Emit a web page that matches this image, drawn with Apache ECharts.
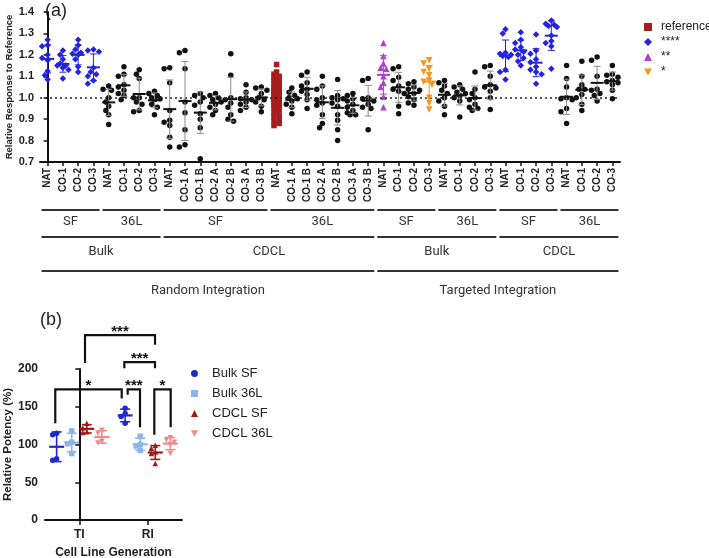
<!DOCTYPE html>
<html>
<head>
<meta charset="UTF-8">
<title>Relative response and potency</title>
<script src="https://cdn.jsdelivr.net/npm/echarts@6/dist/echarts.min.js"></script>
</head>
<body style="margin:0;background:#fff">
<div id="main" style="width:709px;height:558px"></div>
<script>
// ---- panel (a) data: one array per SF/36L block, one inner array per clone ----
var four = ['NAT', 'CO-1', 'CO-2', 'CO-3'];
var seven = ['NAT', 'CO-1 A', 'CO-1 B', 'CO-2 A', 'CO-2 B', 'CO-3 A', 'CO-3 B'];

var riBulkSF = [
  [1.27, 1.245, 1.24, 1.2, 1.185, 1.175, 1.125, 1.105, 1.085],
  [1.22, 1.20, 1.18, 1.16, 1.15, 1.15, 1.14, 1.13, 1.09],
  [1.27, 1.245, 1.225, 1.21, 1.205, 1.2, 1.18, 1.145, 1.12],
  [1.225, 1.22, 1.215, 1.14, 1.12, 1.11, 1.1, 1.08, 1.065]
];
var riBulk36L = [
  [1.055, 1.04, 1.035, 1.0, 0.98, 0.96, 0.94, 0.92, 0.875],
  [1.145, 1.11, 1.10, 1.06, 1.05, 1.035, 1.02, 1.01, 0.99],
  [1.13, 1.11, 1.09, 1.0, 1.0, 0.98, 0.97, 0.94, 0.935],
  [1.03, 1.02, 1.01, 1.0, 0.995, 0.99, 0.97, 0.955, 0.92]
];
var riCdclSF = [
  [1.14, 1.135, 1.07, 0.94, 0.895, 0.885, 0.87, 0.815, 0.77],
  [1.22, 1.21, 1.135, 0.98, 0.93, 0.85, 0.78, 0.77],
  [1.02, 1.01, 1.0, 0.98, 0.965, 0.925, 0.9, 0.86, 0.715],
  [1.02, 1.01, 1.0, 0.99, 0.98, 0.97, 0.955, 0.94, 0.92],
  [1.205, 1.105, 1.0, 0.99, 0.975, 0.955, 0.92, 0.9, 0.89],
  [1.06, 1.025, 1.0, 0.995, 0.99, 0.98, 0.97, 0.955, 0.94],
  [1.05, 1.045, 1.035, 1.02, 1.0, 0.99, 0.98, 0.96, 0.935]
];
var riCdcl36L = [
  [1.155, 1.12, 1.11, 1.10, 1.095, 1.09, 1.085, 1.08, 1.075, 1.07, 1.065, 1.06, 1.055, 1.05, 1.05,
   1.045, 1.04, 1.04, 1.035, 1.03, 1.03, 1.025, 1.02, 1.02, 1.015, 1.01, 1.01, 1.005, 1.0, 1.0,
   0.995, 0.99, 0.99, 0.985, 0.98, 0.98, 0.975, 0.97, 0.965, 0.96, 0.955, 0.95, 0.945, 0.94,
   0.93, 0.92, 0.91, 0.90, 0.89, 0.88, 0.87],
  [1.045, 1.025, 1.01, 1.0, 0.995, 0.985, 0.97, 0.955, 0.925],
  [1.12, 1.105, 1.07, 1.055, 1.04, 1.03, 1.015, 0.99, 0.95],
  [1.1, 1.055, 1.04, 1.0, 0.99, 0.975, 0.965, 0.92, 0.88, 0.86],
  [1.085, 1.01, 1.0, 0.995, 0.99, 0.975, 0.96, 0.92, 0.895, 0.85, 0.80],
  [1.02, 1.01, 0.995, 0.985, 0.97, 0.955, 0.94, 0.93, 0.92, 0.92],
  [1.09, 1.08, 1.0, 0.995, 0.985, 0.97, 0.955, 0.95, 0.85]
];
var tiBulkSF = [
  [1.255, 1.195, 1.16, 1.14, 1.135, 1.1, 1.07, 1.05, 1.005, 0.955],
  [1.145, 1.135, 1.095, 1.08, 1.055, 1.04, 1.03, 1.02, 0.96, 0.925],
  [1.075, 1.065, 1.05, 1.04, 1.035, 1.02, 1.005, 0.99, 0.975, 0.965],
  [1.175, 1.16, 1.135, 1.12, 1.105, 1.08, 1.075, 1.06, 1.0, 0.975, 0.945]
];
var tiBulk36L = [
  [1.08, 1.07, 1.055, 1.035, 1.02, 1.0, 0.985, 0.96, 0.92],
  [1.06, 1.05, 1.04, 1.025, 1.02, 1.01, 1.0, 0.985, 0.91],
  [1.12, 1.04, 1.02, 1.0, 0.99, 0.97, 0.955, 0.95, 0.94],
  [1.15, 1.145, 1.1, 1.06, 1.05, 1.045, 1.03, 1.0, 0.945]
];
var tiCdclSF = [
  [1.32, 1.30, 1.21, 1.205, 1.2, 1.195, 1.19, 1.13, 1.12, 1.085],
  [1.305, 1.27, 1.255, 1.235, 1.225, 1.215, 1.2, 1.185, 1.17, 1.15],
  [1.295, 1.22, 1.205, 1.18, 1.165, 1.145, 1.13, 1.12, 1.11, 1.065],
  [1.36, 1.345, 1.34, 1.335, 1.33, 1.29, 1.265, 1.255, 1.24, 1.135]
];
var tiCdcl36L = [
  [1.15, 1.09, 1.05, 1.0, 0.995, 0.99, 0.95, 0.935, 0.88],
  [1.17, 1.1, 1.06, 1.04, 1.04, 1.015, 1.0, 0.97, 0.94],
  [1.19, 1.175, 1.1, 1.04, 1.035, 1.02, 1.01, 0.985],
  [1.15, 1.11, 1.105, 1.095, 1.08, 1.075, 1.07, 1.06, 1.035, 0.995]
];

// which legend class each clone belongs to ('' = not significant, black)
var riBulkSFMark = ['****', '****', '****', '****'];
var riBulk36LMark = ['', '', '', ''];
var riCdclSFMark = ['', '', '', '', '', '', ''];
var riCdcl36LMark = ['reference', '', '', '', '', '', ''];
var tiBulkSFMark = ['**', '', '', '*'];
var tiBulk36LMark = ['', '', '', ''];
var tiCdclSFMark = ['****', '****', '****', '****'];
var tiCdcl36LMark = ['', '', '', ''];

var levelRows = [
  [['SF', 0, 3], ['36L', 4, 7], ['SF', 8, 14], ['36L', 15, 21], ['SF', 22, 25], ['36L', 26, 29], ['SF', 30, 33], ['36L', 34, 37]],
  [['Bulk', 0, 7], ['CDCL', 8, 21], ['Bulk', 22, 29], ['CDCL', 30, 37]],
  [['Random Integration', 0, 21], ['Targeted Integration', 22, 37]]
];

// ---- panel (b) data: [TI values, RI values] ----
var potencyCats = ['TI', 'RI'];
var bulkSF = [[115, 113, 81, 79], [148, 141, 137, 128]];
var bulk36L = [[118, 103, 101, 88], [111, 100, 98, 92]];
var cdclSF = [[128, 122, 117, 116], [99, 95, 90, 88, 75]];
var cdcl36L = [[119, 115, 104, 102], [109, 106, 103, 100, 88]];

var labelsA = [].concat(four, four, seven, seven, four, four, four, four);
var valuesA = [].concat(riBulkSF, riBulk36L, riCdclSF, riCdcl36L, tiBulkSF, tiBulk36L, tiCdclSF, tiCdcl36L);
var classA = [].concat(riBulkSFMark, riBulk36LMark, riCdclSFMark, riCdcl36LMark,
  tiBulkSFMark, tiBulk36LMark, tiCdclSFMark, tiCdcl36LMark);

var INV_TRI = 'path://M0,0L10,0L5,9Z';
var markStyle = {
  '': { color: '#111111', bar: '#8c8c8c', symbol: 'circle', size: 5.5 },
  'reference': { color: '#a51d1d', bar: '#a51d1d', symbol: 'rect', size: 5.5 },
  '****': { color: '#2323e0', bar: '#2323e0', symbol: 'diamond', size: 6.5 },
  '**': { color: '#b23fd6', bar: '#b23fd6', symbol: 'triangle', size: 6.5 },
  '*': { color: '#f5961f', bar: '#f5961f', symbol: INV_TRI, size: 6.5 }
};

function mean(a) {
  return a.reduce(function (s, v) { return s + v; }, 0) / a.length;
}
function sdev(a) {
  var m = mean(a);
  return Math.sqrt(a.reduce(function (s, v) { return s + (v - m) * (v - m); }, 0) / (a.length - 1));
}

// simple beeswarm: spread overlapping dots sideways, returns offsets in axis units
function swarm(vals, pxY, pxX, diam, step, maxStep) {
  var order = vals.map(function (v, i) { return i; })
    .sort(function (a, b) { return vals[b] - vals[a]; });
  var steps = [0];
  for (var s = 1; s <= maxStep; s++) { steps.push(-s, s); }
  var placed = [], out = [];
  order.forEach(function (i) {
    var best = 0, bestD = -1;
    for (var k = 0; k < steps.length; k++) {
      var ox = steps[k] * step;
      var minD = Infinity;
      placed.forEach(function (p) {
        var dx = ox - p[0], dy = (vals[i] - p[1]) * pxY;
        minD = Math.min(minD, Math.sqrt(dx * dx + dy * dy));
      });
      if (minD >= diam) { best = ox; break; }
      if (minD > bestD) { bestD = minD; best = ox; }
    }
    placed.push([best, vals[i]]);
    out[i] = best / pxX;
  });
  return out;
}

var PX_Y_A = 150 / 0.7, PX_X_A = 580 / 38;
var classNames = ['', 'reference', '****', '**', '*'];
var pointsA = {};
classNames.forEach(function (n) { pointsA[n] = []; });
var barsA = [], barClassA = [];
valuesA.forEach(function (vals, i) {
  var cls = classA[i];
  var offs = cls === 'reference'
    ? swarm(vals, PX_Y_A, PX_X_A, 5, 2.6, 1)
    : swarm(vals, PX_Y_A, PX_X_A, 5, 2.8, 2);
  vals.forEach(function (v, j) { pointsA[cls].push([i + offs[j], v]); });
  if (cls !== 'reference') {
    barsA.push([i, mean(vals), sdev(vals)]);
    barClassA.push(cls);
  }
});

function renderBarsA(params, api) {
  var st = markStyle[barClassA[params.dataIndex]];
  var x = api.value(0), m = api.value(1), s = api.value(2);
  var c = api.coord([x, m]);
  var hi = api.coord([x, m + s])[1], lo = api.coord([x, m - s])[1];
  return {
    type: 'group',
    children: [
      { type: 'line', shape: { x1: c[0], y1: hi, x2: c[0], y2: lo }, style: { stroke: st.bar, lineWidth: 1 } },
      { type: 'line', shape: { x1: c[0] - 3.5, y1: hi, x2: c[0] + 3.5, y2: hi }, style: { stroke: st.bar, lineWidth: 1 } },
      { type: 'line', shape: { x1: c[0] - 3.5, y1: lo, x2: c[0] + 3.5, y2: lo }, style: { stroke: st.bar, lineWidth: 1 } },
      { type: 'line', shape: { x1: c[0] - 6.5, y1: c[1], x2: c[0] + 6.5, y2: c[1] }, style: { stroke: st.color, lineWidth: 2 } }
    ]
  };
}

// grouping rows under the x axis of panel (a)
var levelLine = [48, 75, 109], levelText = [60, 90, 129];
var levelData = [], levelMeta = [];
levelRows.forEach(function (row, r) {
  row.forEach(function (g) {
    levelData.push([g[1], g[2]]);
    levelMeta.push({ text: g[0], row: r });
  });
});
function renderLevels(params, api) {
  var meta = levelMeta[params.dataIndex];
  var p1 = api.coord([api.value(0) - 0.4, 0.7]);
  var p2 = api.coord([api.value(1) + 0.4, 0.7]);
  var yl = p1[1] + levelLine[meta.row], yt = p1[1] + levelText[meta.row];
  return {
    type: 'group',
    children: [
      { type: 'line', shape: { x1: p1[0], y1: yl, x2: p2[0], y2: yl }, style: { stroke: '#333', lineWidth: 2.2 } },
      { type: 'text', style: { text: meta.text, x: (p1[0] + p2[0]) / 2, y: yt, align: 'center', verticalAlign: 'middle',
        fontFamily: 'Roboto', fontSize: 13, fill: '#333' } }
    ]
  };
}

// ---- panel (b) ----
var seriesB = [
  { name: 'Bulk SF', vals: bulkSF, color: '#1f2bc9', symbol: 'circle' },
  { name: 'Bulk 36L', vals: bulk36L, color: '#8fb4ea', symbol: 'rect' },
  { name: 'CDCL SF', vals: cdclSF, color: '#9c1a1a', symbol: 'triangle' },
  { name: 'CDCL 36L', vals: cdcl36L, color: '#ef8a8a', symbol: INV_TRI }
];
var subOffset = [-0.33, -0.11, 0.11, 0.33];
var PX_Y_B = 151 / 200, PX_X_B = 137 / 2;

var bracketsB = [
  { stars: '*', x1: -0.35, x2: 0.62, top: 173, yl: 128, yr: 161 },
  { stars: '***', x1: 0.084, x2: 1.106, top: 245, yl: 208, yr: 232 },
  { stars: '***', x1: 0.658, x2: 1.106, top: 209, yl: 201, yr: 201 },
  { stars: '***', x1: 0.707, x2: 0.887, top: 173, yl: 166, yr: 123 },
  { stars: '*', x1: 1.096, x2: 1.335, top: 173, yl: 113, yr: 123 }
];
function renderBrackets(params, api) {
  var b = bracketsB[params.dataIndex];
  var a = api.coord([b.x1, b.yl]), t1 = api.coord([b.x1, b.top]);
  var t2 = api.coord([b.x2, b.top]), c = api.coord([b.x2, b.yr]);
  return {
    type: 'group',
    children: [
      { type: 'polyline', shape: { points: [a, t1, t2, c] }, style: { stroke: '#111', lineWidth: 2.2, fill: null } },
      { type: 'text', style: { text: b.stars, x: (t1[0] + t2[0]) / 2, y: t1[1] + 4, align: 'center', verticalAlign: 'bottom',
        fontFamily: 'Liberation Sans', fontWeight: 'bold', fontSize: 15, fill: '#111' } }
    ]
  };
}

var series = [];
classNames.forEach(function (n) {
  var st = markStyle[n];
  var s = {
    name: n === '' ? 'ns' : n,
    type: 'scatter',
    xAxisIndex: 1, yAxisIndex: 0,
    symbol: st.symbol, symbolSize: st.size,
    itemStyle: { color: st.color, opacity: 1 },
    data: pointsA[n],
    silent: true
  };
  if (n === '') {
    s.markLine = {
      silent: true, symbol: 'none', label: { show: false },
      lineStyle: { color: '#222', type: [2, 3], width: 1.6 },
      data: [{ yAxis: 1 }]
    };
  }
  series.push(s);
});
series.push({
  type: 'custom', xAxisIndex: 1, yAxisIndex: 0, renderItem: renderBarsA,
  data: barsA, silent: true, z: 5
});
series.push({
  type: 'custom', xAxisIndex: 1, yAxisIndex: 0, renderItem: renderLevels,
  data: levelData, silent: true, clip: false
});

seriesB.forEach(function (sb, k) {
  var pts = [], bars = [];
  sb.vals.forEach(function (vals, c) {
    var offs = swarm(vals, PX_Y_B, PX_X_B, 5, 4, 1);
    vals.forEach(function (v, j) { pts.push([c + subOffset[k] + offs[j], v]); });
    bars.push([c + subOffset[k], mean(vals), sdev(vals)]);
  });
  series.push({
    name: sb.name, type: 'scatter', xAxisIndex: 3, yAxisIndex: 1,
    symbol: sb.symbol, symbolSize: 5.5, itemStyle: { color: sb.color, opacity: 1 },
    data: pts, silent: true
  });
  series.push({
    type: 'custom', xAxisIndex: 3, yAxisIndex: 1, silent: true, z: 5, data: bars,
    renderItem: function (params, api) {
      var x = api.value(0), m = api.value(1), s = api.value(2);
      var c = api.coord([x, m]);
      var hi = api.coord([x, m + s])[1], lo = api.coord([x, m - s])[1];
      var ls = { stroke: sb.color, lineWidth: 1.6 };
      return {
        type: 'group',
        children: [
          { type: 'line', shape: { x1: c[0], y1: hi, x2: c[0], y2: lo }, style: ls },
          { type: 'line', shape: { x1: c[0] - 5, y1: hi, x2: c[0] + 5, y2: hi }, style: ls },
          { type: 'line', shape: { x1: c[0] - 5, y1: lo, x2: c[0] + 5, y2: lo }, style: ls },
          { type: 'line', shape: { x1: c[0] - 7.5, y1: c[1], x2: c[0] + 7.5, y2: c[1] }, style: { stroke: sb.color, lineWidth: 2.2 } }
        ]
      };
    }
  });
});
series.push({
  type: 'custom', xAxisIndex: 3, yAxisIndex: 1, renderItem: renderBrackets,
  data: bracketsB.map(function (b) { return [b.x1, b.top]; }), silent: true, clip: false
});

var axisBlack = { show: true, lineStyle: { color: '#111', width: 2 } };
var tickBlack = { show: true, length: 4, lineStyle: { color: '#111', width: 1.5 } };

var option = {
  animation: false,
  textStyle: { fontFamily: 'Liberation Sans, Arial, sans-serif' },
  grid: [
    { left: 40, top: 12, width: 580, height: 150, containLabel: false, outerBoundsMode: 'none' },
    { left: 45, top: 369, width: 137, height: 151, containLabel: false, outerBoundsMode: 'none' }
  ],
  xAxis: [
    {
      type: 'category', gridIndex: 0, data: labelsA, boundaryGap: true,
      axisLine: axisBlack,
      axisTick: { show: true, alignWithLabel: true, length: 4, lineStyle: { color: '#111', width: 1.5 } },
      axisLabel: { interval: 0, rotate: 90, margin: 6, fontSize: 10, fontWeight: 'bold', color: '#222' },
      splitLine: { show: false }
    },
    { type: 'value', gridIndex: 0, min: -0.5, max: 37.5, show: false },
    {
      type: 'category', gridIndex: 1, data: potencyCats, boundaryGap: true,
      axisLine: axisBlack,
      axisTick: { show: true, alignWithLabel: true, length: 5, lineStyle: { color: '#111', width: 1.5 } },
      axisLabel: { margin: 9, fontSize: 12, fontWeight: 'bold', color: '#222' },
      name: 'Cell Line Generation', nameLocation: 'middle', nameGap: 27,
      nameTextStyle: { fontSize: 12, fontWeight: 'bold', color: '#222' }
    },
    { type: 'value', gridIndex: 1, min: -0.5, max: 1.5, show: false }
  ],
  yAxis: [
    {
      type: 'value', gridIndex: 0, min: 0.7, max: 1.4, interval: 0.1,
      axisLine: axisBlack, axisTick: tickBlack, splitLine: { show: false },
      axisLabel: { margin: 6, fontSize: 11, fontWeight: 'bold', color: '#222',
        formatter: function (v) { return v.toFixed(1); } },
      name: 'Relative Response to Reference', nameLocation: 'middle', nameGap: 26, nameRotate: 90,
      nameMoveOverlap: false,
      nameTextStyle: { fontSize: 9.5, fontWeight: 'bold', color: '#222' }
    },
    {
      type: 'value', gridIndex: 1, min: 0, max: 200, interval: 50,
      axisLine: axisBlack, axisTick: tickBlack, splitLine: { show: false },
      axisLabel: { margin: 7, fontSize: 12, fontWeight: 'bold', color: '#222' },
      name: 'Relative Potency (%)', nameLocation: 'middle', nameGap: 30, nameRotate: 90,
      nameTextStyle: { fontSize: 11.5, fontWeight: 'bold', color: '#222' }
    }
  ],
  legend: [
    {
      data: ['reference', '****', '**', '*'], orient: 'vertical', left: 639, top: 16,
      itemWidth: 8, itemHeight: 8, itemGap: 3, selectedMode: false,
      textStyle: { fontSize: 12, color: '#222', padding: [0, 0, 0, 4] }
    },
    {
      data: ['Bulk SF', 'Bulk 36L', 'CDCL SF', 'CDCL 36L'], orient: 'vertical', left: 186, top: 362,
      itemWidth: 7, itemHeight: 7, itemGap: 7, selectedMode: false,
      textStyle: { fontSize: 13, color: '#222', padding: [0, 0, 0, 9] }
    }
  ],
  graphic: [
    { type: 'text', left: 45, top: 2, style: { text: '(a)', fontSize: 18, fontFamily: 'Liberation Sans', fill: '#222' } },
    { type: 'text', left: 40, top: 311, style: { text: '(b)', fontSize: 18, fontFamily: 'Liberation Sans', fill: '#222' } }
  ],
  series: series
};

var chart = echarts.init(document.getElementById('main'));
chart.setOption(option);
</script>
</body>
</html>
